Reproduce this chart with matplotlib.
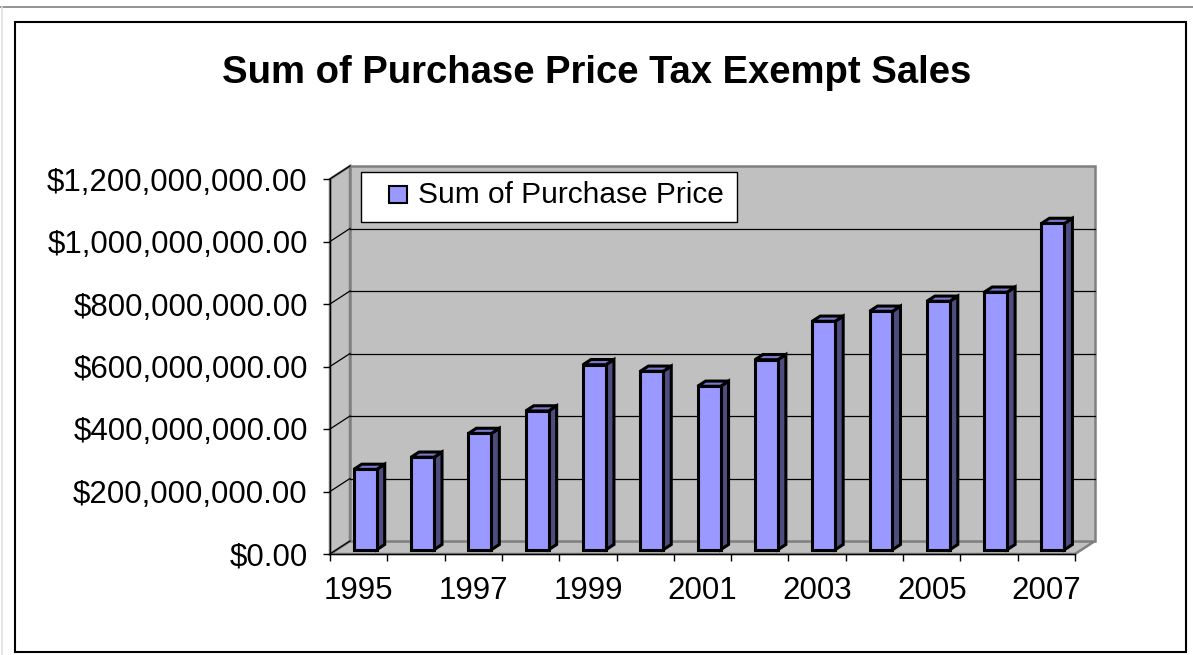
import matplotlib
matplotlib.use("Agg")
import matplotlib.pyplot as plt
from matplotlib.patches import Polygon, Rectangle
from matplotlib.lines import Line2D

plt.rcParams['font.family'] = ['Liberation Sans', 'DejaVu Sans']

# data (dollars)
years = ['1995', '1996', '1997', '1998', '1999', '2000', '2001',
         '2002', '2003', '2004', '2005', '2006', '2007']
purchase_price = [257e6, 296e6, 372e6, 444e6, 592e6, 571e6, 523e6,
                  608e6, 731e6, 763e6, 795e6, 824e6, 1044e6]
y_ticks = [0, 200e6, 400e6, 600e6, 800e6, 1000e6, 1200e6]
series_name = 'Sum of Purchase Price'
title = 'Sum of Purchase Price Tax Exempt Sales'

W, H = 1193, 655
fig = plt.figure(figsize=(W / 100, H / 100), dpi=100)

# frame bits from the screenshot
fig.add_artist(Line2D([0, 1], [1 - 7 / H, 1 - 7 / H], color='#808080', lw=1.2))
fig.add_artist(Line2D([2 / W, 2 / W], [0, 1 - 7 / H], color='#e0e0e0', lw=1.2))
fig.add_artist(Rectangle((15 / W, 1 - 652 / H), (1186 - 15) / W, (652 - 22) / H,
                         fill=False, edgecolor='black', lw=1.5))

# axes = front face of the 3d box
ax = fig.add_axes([330 / W, (H - 554) / H, 745 / W, 375 / H])
n = len(years)
x0, x1 = -0.5, n - 0.5
ymax = y_ticks[-1]
ax.set_xlim(x0, x1)
ax.set_ylim(0, ymax)
ax.patch.set_alpha(0)

# depth of the box in data units
DX = 20 / (745 / n)
DY = 13 / 375 * ymax

wall = '#c0c0c0'
wall_edge = '#808080'
# floor, side wall, back wall
ax.add_patch(Polygon([(x0, 0), (x1, 0), (x1 + DX, DY), (x0 + DX, DY)],
                     closed=True, fc=wall, ec=wall_edge, lw=1.8, clip_on=False, zorder=0))
ax.add_patch(Polygon([(x0, 0), (x0 + DX, DY), (x0 + DX, ymax + DY), (x0, ymax)],
                     closed=True, fc=wall, ec=wall_edge, lw=1.8, clip_on=False, zorder=0))
ax.add_patch(Polygon([(x0 + DX, DY), (x1 + DX, DY), (x1 + DX, ymax + DY), (x0 + DX, ymax + DY)],
                     closed=True, fc=wall, ec=wall_edge, lw=1.8, clip_on=False, zorder=0))

# gridlines on back wall and side wall
for v in y_ticks:
    ax.plot([x0, x0 + DX], [v, v + DY], color='black', lw=0.9, clip_on=False, zorder=1)
    if 0 < v < ymax:
        ax.plot([x0 + DX, x1 + DX], [v + DY, v + DY], color='black', lw=0.9,
                clip_on=False, zorder=1)

# 3d columns
bw = 0.40
f1, f2 = 0.33, 0.73
ddx, ddy = (f2 - f1) * DX, (f2 - f1) * DY
for i, val in enumerate(purchase_price):
    xl = i - bw / 2 + f1 * DX
    xr = xl + bw
    yb = f1 * DY
    yt = val + f1 * DY
    kw = dict(closed=True, ec='black', lw=2.2, clip_on=False, zorder=3, joinstyle='miter')
    ax.add_patch(Polygon([(xr, yb), (xr + ddx, yb + ddy), (xr + ddx, yt + ddy), (xr, yt)],
                         fc='#4d4d80', **kw))
    ax.add_patch(Polygon([(xl, yt), (xr, yt), (xr + ddx, yt + ddy), (xl + ddx, yt + ddy)],
                         fc='#7a7acc', **kw))
    ax.add_patch(Polygon([(xl, yb), (xr, yb), (xr, yt), (xl, yt)], fc='#9999ff', **kw))

# axes lines and ticks
for s in ['top', 'right']:
    ax.spines[s].set_visible(False)
for s in ['left', 'bottom']:
    ax.spines[s].set_color('black')
    ax.spines[s].set_linewidth(1.0)
    ax.spines[s].set_zorder(2)

ax.set_yticks(y_ticks)
ax.set_yticklabels([f'${v:,.2f}' for v in y_ticks])
ax.tick_params(axis='y', direction='out', length=5, width=1, pad=11, labelsize=22.5)

ax.set_xticks(range(0, n, 2))
ax.set_xticklabels(years[::2])
ax.set_xticks([x0 + k for k in range(n + 1)], minor=True)
ax.tick_params(axis='x', which='major', length=0, pad=16, labelsize=22.5)
ax.tick_params(axis='x', which='minor', direction='out', length=5, width=1)

# title
fig.text(597 / W, 1 - 83 / H, title, ha='center', va='baseline',
         fontsize=27.5, fontweight='bold')

# legend box
fig.add_artist(Rectangle((361 / W, 1 - 222 / H), 376 / W, 50 / H,
                         fc='white', ec='black', lw=1.0))
fig.add_artist(Rectangle((389 / W, 1 - 203 / H), 18 / W, 17 / H,
                         fc='#9999ff', ec='black', lw=1.5))
fig.text(418 / W, 1 - 195 / H, series_name, ha='left', va='center', fontsize=21.5)

fig.savefig('out.png', dpi=100)
